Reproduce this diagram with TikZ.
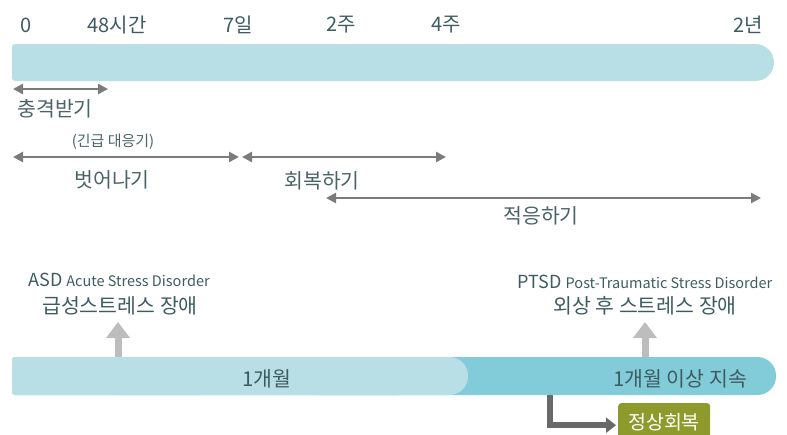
\documentclass[tikz,border=0pt]{standalone}
\usepackage{fontspec}
\setmainfont{Noto Sans CJK KR}
\usetikzlibrary{arrows.meta}
\definecolor{barlight}{HTML}{B9DFE6}
\definecolor{bardark}{HTML}{82CBD9}
\definecolor{lbl}{HTML}{3E5C60}
\definecolor{arr}{HTML}{7B7B7B}
\definecolor{uparr}{HTML}{BDBDBD}
\definecolor{olive}{HTML}{8E9A2C}
\tikzset{
  tick/.style={text=lbl, font=\fontsize{20}{20}\selectfont, inner sep=0pt},
  phase/.style={text=lbl!80!gray, font=\fontsize{20.5}{20.5}\selectfont, inner sep=0pt},
  span/.style={draw=arr, line width=2.8pt, {Triangle[length=10pt,width=10pt]}-{Triangle[length=10pt,width=10pt]}},
  uparrow/.style={draw=uparr, line width=7pt, -{Triangle[length=16pt,width=23pt]}},
  bent/.style={draw=arr!85!black, line width=5.5pt, -{Triangle[length=10pt,width=15pt]}},
  dis/.style={text=lbl, inner sep=0pt, align=center},
}
\begin{document}
\begin{tikzpicture}[x=1pt,y=-1pt]
\useasboundingbox (0,0) rectangle (787,434);
% top bar
\fill[barlight, rounded corners=18.5pt] (100,44) rectangle (774,81);
\fill[barlight, rounded corners=3pt] (12,44) rectangle (200,81);
% tick labels
\node[tick] (t0) at (26,25) {0};
\node[tick] (t48) at (117,25) {48시간};
\node[tick] (t7) at (238,25) {7일};
\node[tick] (t2w) at (341,25) {2주};
\node[tick] (t4w) at (446,25) {4주};
\node[tick] (t2y) at (748,25) {2년};
% phase arrows
\coordinate (a0) at (13,89);
\coordinate (a48) at (108,89);
\draw[span] (a0) -- (a48);
\node[phase] (shock) at (55,109) {충격받기};
\coordinate (b0) at (13,157);
\coordinate (b7) at (239,157);
\draw[span] (b0) -- (b7);
\node[text=lbl!80!gray, font=\fontsize{15}{15}\selectfont, inner sep=0pt] (urg) at (113,142) {(긴급 대응기)};
\node[phase] (escape) at (112,180) {벗어나기};
\coordinate (c0) at (242,157);
\coordinate (c1) at (446,157);
\draw[span] (c0) -- (c1);
\node[phase] (recov) at (322,181) {회복하기};
\coordinate (d0) at (326,198);
\coordinate (d1) at (761,198);
\draw[span] (d0) -- (d1);
\node[phase] (adapt) at (541,216) {적응하기};
% disorders
\node[dis] (asd) at (119,280) {\fontsize{18}{18}\selectfont ASD \fontsize{14.5}{14.5}\selectfont Acute Stress Disorder};
\node[dis] (asdk) at (120,306) {\fontsize{20.5}{20.5}\selectfont 급성스트레스 장애};
\node[dis] (ptsd) at (645,282) {\fontsize{18}{18}\selectfont PTSD \fontsize{14.5}{14.5}\selectfont Post-Traumatic Stress Disorder};
\node[dis] (ptsdk) at (645,306) {\fontsize{20.5}{20.5}\selectfont 외상 후 스트레스 장애};
% bottom bar
\fill[bardark, rounded corners=18.5pt] (300,357) rectangle (776,395);
\fill[bardark, rounded corners=3pt] (12,357) rectangle (400,395);
\fill[barlight, rounded corners=18.5pt] (100,357) rectangle (468,395);
\fill[barlight, rounded corners=3pt] (12,357) rectangle (200,395);
\node[tick, font=\fontsize{20.5}{20.5}\selectfont] (m1) at (267,379) {1개월};
\node[tick, font=\fontsize{20.5}{20.5}\selectfont] (m1p) at (680,379) {1개월 이상 지속};
% up arrows
\coordinate (u1) at (118,357);
\coordinate (u1t) at (118,322);
\draw[uparrow] (u1) -- (u1t);
\coordinate (u2) at (645,357);
\coordinate (u2t) at (645,322);
\draw[uparrow] (u2) -- (u2t);
% recovery box
\node[fill=olive, minimum width=92pt, minimum height=38pt, inner sep=0pt, rounded corners=3pt, anchor=north west] (ok) at (618,403) {};
\node[text=white, font=\fontsize{19.5}{19.5}\selectfont, inner sep=0pt] (oktext) at (664,422) {정상회복};
\coordinate (bt) at (550,395);
\draw[bent] (bt) |- ([xshift=-2pt,yshift=-3pt]ok.west);
\end{tikzpicture}
\end{document}
